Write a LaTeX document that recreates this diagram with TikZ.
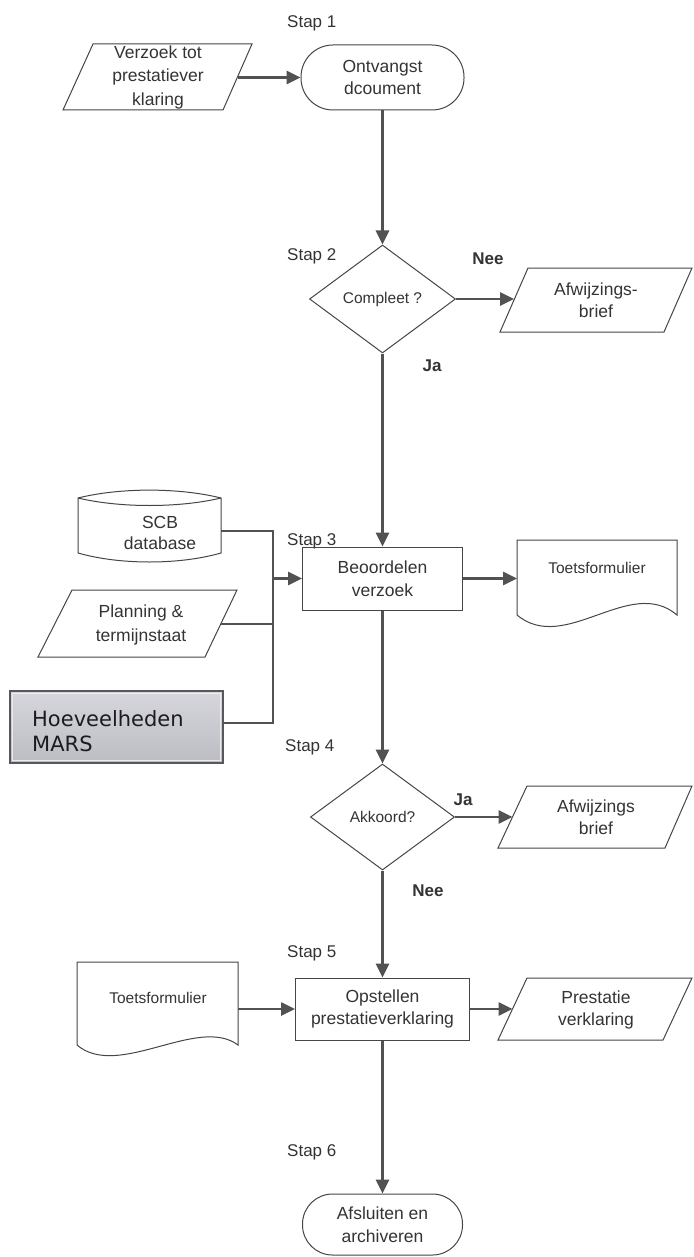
\documentclass[tikz,border=0pt]{standalone}
\usepackage{fontspec}
\setmainfont{Liberation Sans}
\newfontfamily\hoevfont{DejaVu Sans}
\usetikzlibrary{arrows.meta,shapes.geometric}
\definecolor{linec}{RGB}{82,82,82}
\definecolor{shapec}{RGB}{70,70,70}
\definecolor{textc}{RGB}{52,52,52}
\begin{document}
\begin{tikzpicture}[x=1pt,y=-1pt,
  outline/.style={draw=shapec,line width=1pt},
  conn/.style={draw=linec,line width=2.6pt,-{Triangle[length=14pt,width=13pt]}},
  plain/.style={draw=linec,line width=2.6pt},
  lbl/.style={text=textc,font=\fontsize{17.5}{22.5}\selectfont,align=center,inner sep=0pt},
  small/.style={text=textc,font=\fontsize{15.5}{20}\selectfont,align=center,inner sep=0pt},
  steplbl/.style={text=textc,font=\fontsize{17}{20}\selectfont,anchor=west,inner sep=0pt},
  answer/.style={text=textc,font=\bfseries\fontsize{17}{20}\selectfont,inner sep=0pt},
  ghost/.style={inner sep=0pt,outer sep=0pt},
]
\useasboundingbox (0,0) rectangle (693,1257);
\fill[white] (0,0) rectangle (693,1257);

% step labels
\node[steplbl] (s1) at (287,23) {Stap 1};
\node[steplbl] (s2) at (287,256) {Stap 2};
\node[steplbl] (s3) at (287,541) {Stap 3};
\node[steplbl] (s4) at (285,747) {Stap 4};
\node[steplbl] (s5) at (287,953) {Stap 5};
\node[steplbl] (s6) at (287,1152) {Stap 6};

% verzoek
\draw[outline] (93,44) -- (252,44) -- (223,110) -- (63,110) -- cycle;
\node[lbl,font=\fontsize{17.5}{23.5}\selectfont] (verzoek) at (158,77) {Verzoek tot\\prestatiever\\klaring};
\coordinate (verzoekR) at (237.5,77.5);

% ontvangst
\node[outline,rounded corners=32pt,minimum width=163pt,minimum height=65pt,lbl] (ontvangst) at (382.5,77.5) {Ontvangst\\dcoument};

% compleet
\node[diamond,outline,minimum width=146pt,minimum height=108pt,small] (compleet) at (382.5,299) {Compleet ?};

% afwijzingsbrief 1
\draw[outline] (528,268) -- (692,268) -- (664,332) -- (500,332) -- cycle;
\node[lbl] (afw1) at (596,300) {Afwijzings-\\brief};
\coordinate (afw1L) at (514,299);
\node[answer] (nee1) at (488,259) {Nee};
\node[answer] (ja1) at (432,366) {Ja};

% beoordelen
\node[rectangle,outline,minimum width=160pt,minimum height=63pt,lbl] (beoordelen) at (382.5,578.5) {Beoordelen\\verzoek};

% toetsformulier 1
\draw[outline] (517,615) -- (517,540) -- (677,540) -- (677,615) .. controls (630,575) and (565,655) .. (517,615);
\node[small] (toets1txt) at (597,568) {Toetsformulier};
\node[ghost,minimum width=160pt,minimum height=77pt] (toets1) at (597,578.5) {};

% SCB database
\draw[outline] (78,498) .. controls (120,487.5) and (179,487.5) .. (221,498) -- (221,553) .. controls (179,565) and (120,565) .. (78,553) -- cycle;
\draw[outline] (78,498) .. controls (120,508) and (179,508) .. (221,498);
\node[lbl,font=\fontsize{17.5}{21}\selectfont] (scb) at (160,533) {SCB\\database};
\coordinate (scbR) at (221,531);

% planning
\draw[outline] (72,590) -- (237,590) -- (205,657) -- (38,657) -- cycle;
\node[lbl,font=\fontsize{17.5}{24}\selectfont] (planning) at (141,625) {Planning \&\\termijnstaat};
\coordinate (planningR) at (221,624);

% hoeveelheden
\shade[top color={rgb,255:red,214;green,214;blue,220},bottom color={rgb,255:red,188;green,188;blue,196}] (10,691) rectangle (223,763);
\draw[draw={rgb,255:red,88;green,88;blue,92},line width=1.8pt] (10,691) rectangle (223,763);
\draw[draw={rgb,255:red,235;green,235;blue,238},line width=0.8pt] (12.5,693.5) rectangle (220.5,760.5);
\node[anchor=west,align=left,inner sep=0pt,text={rgb,255:red,28;green,28;blue,32},font=\hoevfont\fontsize{21}{24.5}\selectfont] (hoev) at (32,731) {Hoeveelheden\\MARS};
\coordinate (hoevR) at (223,723);

% bracket
\coordinate (brTop) at (273,531);
\coordinate (brPlan) at (273,624);
\coordinate (brBot) at (273,723);
\coordinate (brMid) at (273,578.5);
\draw[plain] (scbR) -- (brTop) -- (brBot) -- (hoevR);
\draw[plain] (planningR) -- (brPlan);
\draw[conn] (brMid) -- (beoordelen.west);

% akkoord
\node[diamond,outline,minimum width=144pt,minimum height=106pt,small] (akkoord) at (382.5,817) {Akkoord?};

% afwijzingsbrief 2
\draw[outline] (527,786) -- (692,786) -- (665,848) -- (498,848) -- cycle;
\node[lbl] (afw2) at (596,817) {Afwijzings\\brief};
\coordinate (afw2L) at (512.5,817);
\node[answer] (ja2) at (463,800) {Ja};
\node[answer] (nee2) at (428,891) {Nee};

% opstellen
\node[rectangle,outline,minimum width=174pt,minimum height=62pt,lbl] (opstellen) at (382.5,1009) {Opstellen\\prestatieverklaring};

% toetsformulier 2
\draw[outline] (77,1045) -- (77,962) -- (238,962) -- (238,1045) .. controls (198,1015) and (118,1080) .. (77,1045);
\node[small] (toets2txt) at (158,998) {Toetsformulier};
\coordinate (toets2R) at (238,1009);

% prestatie
\draw[outline] (527,978) -- (692,978) -- (663,1040) -- (498,1040) -- cycle;
\node[lbl] (prestatie) at (596,1010) {Prestatie\\verklaring};
\coordinate (prestatieL) at (512.5,1009);

% afsluiten
\node[outline,rounded corners=30pt,minimum width=160pt,minimum height=61pt,lbl] (afsluiten) at (382.5,1224.5) {Afsluiten en\\archiveren};

% connectors
\draw[conn] (verzoekR) -- (ontvangst.west);
\draw[conn] (ontvangst.south) -- (compleet.north);
\draw[conn] (compleet.east) -- (afw1L);
\draw[conn] (compleet.south) -- (beoordelen.north);
\draw[conn] (beoordelen.east) -- (toets1.west);
\draw[conn] (beoordelen.south) -- (akkoord.north);
\draw[conn] (akkoord.east) -- (afw2L);
\draw[conn] (akkoord.south) -- (opstellen.north);
\draw[conn] (toets2R) -- (opstellen.west);
\draw[conn] (opstellen.east) -- (prestatieL);
\draw[conn] (opstellen.south) -- (afsluiten.north);
\end{tikzpicture}
\end{document}
